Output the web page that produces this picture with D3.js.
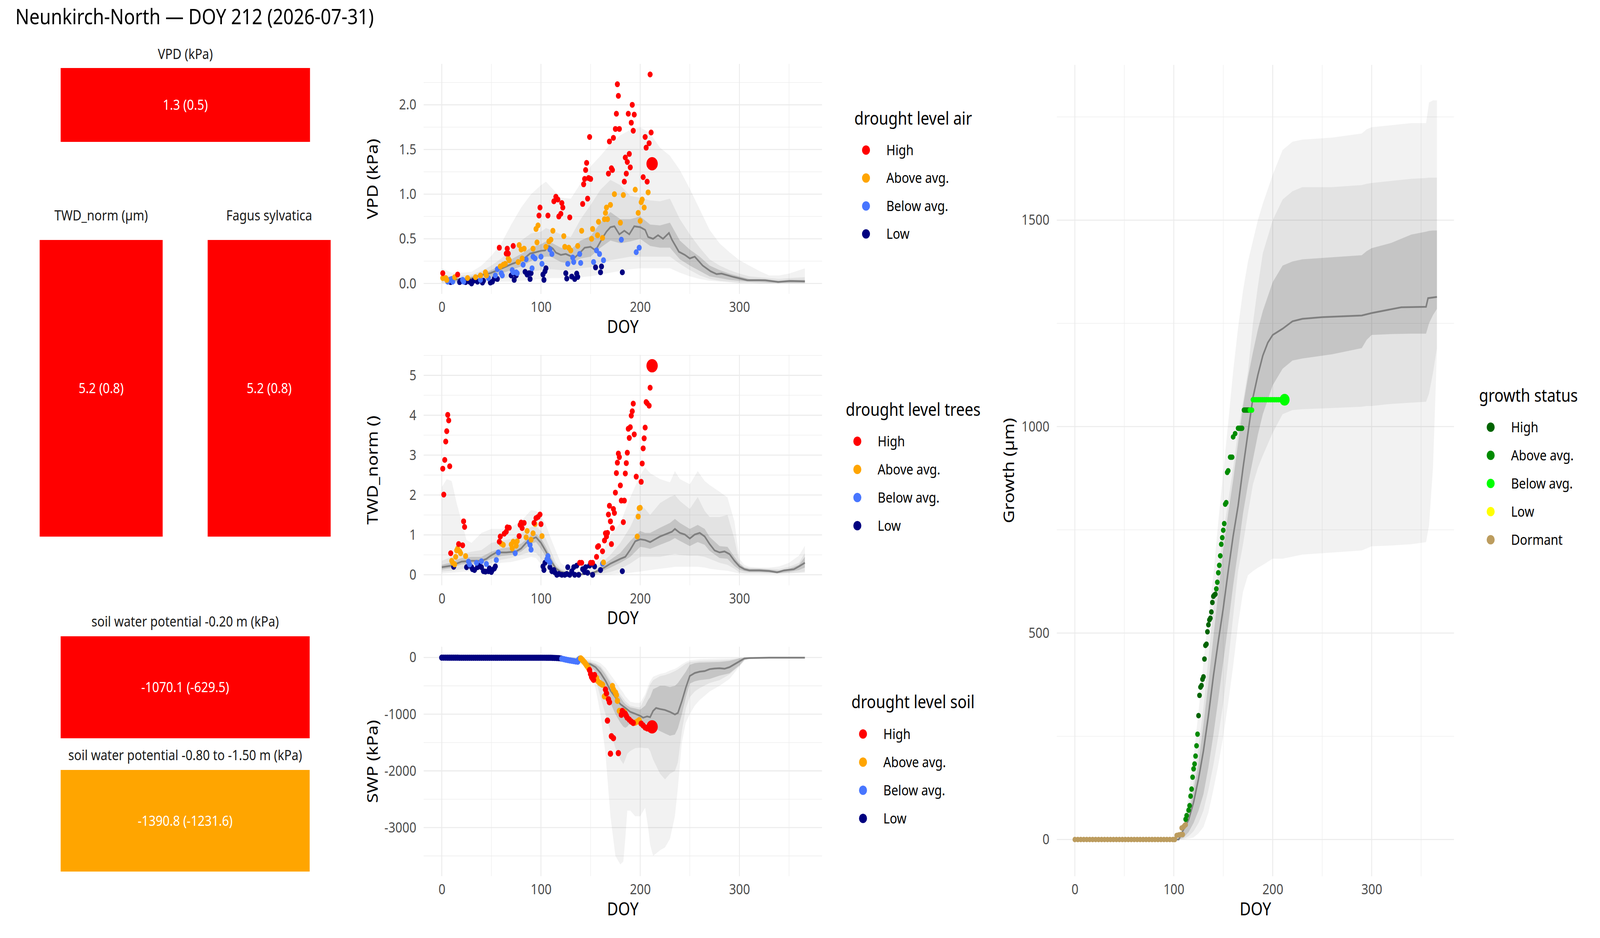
<!DOCTYPE html>
<html>
<head>
<meta charset="utf-8">
<script src="https://cdn.jsdelivr.net/npm/d3@7"></script>
<style>
  html, body { margin: 0; padding: 0; background: #fff; overflow: hidden; }
  svg { display: block; width: 100vw; height: 100vh; }
  text { font-family: "Noto Sans", sans-serif; }
</style>
</head>
<body>
<svg id="chart" viewBox="0 0 4800 2400" preserveAspectRatio="none"></svg>
<script>
// ---- data ----
const levels = ['High', 'Above avg.', 'Below avg.', 'Low'];
const levelColors = ['#FF0000', '#FFA500', '#4876FF', '#000080'];
const growthLevels = ['High', 'Above avg.', 'Below avg.', 'Low', 'Dormant'];
const growthColors = ['#006400', '#008B00', '#00FF00', '#FFFF00', '#BC9C5E'];

const tileTitles = ['VPD (kPa)', 'TWD_norm (µm)', 'Fagus sylvatica',
  'soil water potential -0.20 m (kPa)', 'soil water potential -0.80 to -1.50 m (kPa)'];
const tileValues = ['1.3 (0.5)', '5.2 (0.8)', '5.2 (0.8)', '-1070.1 (-629.5)', '-1390.8 (-1231.6)'];
const tileLevels = ['High', 'High', 'High', 'High', 'Above avg.'];

const doyMajor = [0, 100, 200, 300];
const doyMinor = [50, 150, 250, 350];

// bands: [doy, outerLo, midLo, innerLo, innerHi, midHi, outerHi]
const vpdBands = [
  [0, 0.00, 0.01, 0.03, 0.07, 0.10, 0.17], [10, 0.00, 0.01, 0.02, 0.06, 0.08, 0.12],
  [20, 0.00, 0.01, 0.02, 0.06, 0.09, 0.12], [30, 0.00, 0.01, 0.03, 0.08, 0.10, 0.13],
  [40, 0.00, 0.02, 0.05, 0.11, 0.14, 0.20], [50, 0.01, 0.03, 0.07, 0.15, 0.20, 0.31],
  [60, 0.02, 0.05, 0.11, 0.21, 0.28, 0.45], [70, 0.02, 0.07, 0.15, 0.27, 0.38, 0.66],
  [80, 0.03, 0.10, 0.19, 0.33, 0.48, 0.85], [90, 0.04, 0.13, 0.25, 0.40, 0.56, 1.00],
  [100, 0.05, 0.15, 0.29, 0.44, 0.58, 1.10], [105, 0.05, 0.16, 0.30, 0.47, 0.62, 1.14],
  [110, 0.06, 0.16, 0.30, 0.46, 0.60, 1.08], [120, 0.06, 0.15, 0.24, 0.40, 0.55, 0.96],
  [130, 0.06, 0.15, 0.22, 0.38, 0.52, 0.95], [140, 0.07, 0.17, 0.28, 0.48, 0.72, 1.12],
  [150, 0.08, 0.18, 0.30, 0.53, 0.88, 1.31], [160, 0.10, 0.22, 0.40, 0.68, 1.05, 1.43],
  [170, 0.12, 0.26, 0.48, 0.80, 1.16, 1.56], [180, 0.14, 0.28, 0.45, 0.72, 1.10, 1.66],
  [190, 0.16, 0.30, 0.47, 0.72, 0.98, 1.72], [200, 0.17, 0.30, 0.50, 0.75, 0.96, 1.75],
  [210, 0.17, 0.30, 0.42, 0.66, 0.93, 1.68], [220, 0.17, 0.30, 0.40, 0.65, 0.92, 1.52],
  [230, 0.17, 0.30, 0.40, 0.68, 0.95, 1.43], [240, 0.12, 0.22, 0.27, 0.48, 0.72, 1.27],
  [250, 0.08, 0.15, 0.20, 0.38, 0.55, 1.06], [260, 0.05, 0.09, 0.14, 0.30, 0.40, 0.83],
  [270, 0.03, 0.05, 0.08, 0.20, 0.27, 0.60], [280, 0.02, 0.03, 0.06, 0.15, 0.20, 0.45],
  [290, 0.01, 0.02, 0.04, 0.11, 0.15, 0.35], [300, 0.00, 0.01, 0.03, 0.08, 0.11, 0.26],
  [310, 0.00, 0.01, 0.02, 0.05, 0.08, 0.20], [320, 0.00, 0.00, 0.02, 0.05, 0.07, 0.14],
  [330, 0.00, 0.00, 0.01, 0.04, 0.06, 0.09], [340, 0.00, 0.00, 0.01, 0.03, 0.05, 0.09],
  [350, 0.00, 0.00, 0.01, 0.04, 0.06, 0.11], [366, 0.00, 0.00, 0.01, 0.04, 0.07, 0.17]
];
const vpdMedian = [[0, 0.05], [10, 0.045], [20, 0.045], [30, 0.055], [36, 0.08], [42, 0.10], [49, 0.115],
  [58, 0.157], [65, 0.19], [71, 0.22], [81, 0.26], [89, 0.335], [95, 0.35], [100, 0.366], [104, 0.37],
  [108, 0.42], [112, 0.39], [115, 0.345], [120, 0.32], [125, 0.33], [129, 0.31], [134, 0.29], [139, 0.34],
  [144, 0.40], [150, 0.41], [155, 0.37], [162, 0.51], [166, 0.58], [170, 0.63], [174, 0.64], [179, 0.55],
  [184, 0.59], [189, 0.55], [194, 0.64], [200, 0.63], [205, 0.60], [208, 0.52], [213, 0.50], [218, 0.54],
  [223, 0.50], [229, 0.565], [232, 0.49], [239, 0.355], [245, 0.32], [250, 0.28], [255, 0.30], [263, 0.20],
  [271, 0.136], [277, 0.105], [282, 0.11], [294, 0.073], [308, 0.036], [326, 0.036], [339, 0.017],
  [351, 0.027], [366, 0.023]];
const vpdHigh = [[1, 0.115], [16, 0.10], [58, 0.40], [65, 0.335], [66, 0.39], [67, 0.335], [72, 0.42],
  [98, 0.76], [99, 0.85], [107, 0.76], [113, 0.92], [115, 0.97], [117, 0.94], [118, 0.75], [120, 0.78],
  [121, 0.90], [122, 0.85], [129, 0.74], [142, 0.89], [143, 1.11], [144, 1.17], [145, 1.27], [146, 1.35],
  [147, 0.95], [148, 1.18], [149, 1.64], [150, 1.17], [168, 1.23], [169, 1.59], [171, 1.29], [172, 1.27],
  [173, 1.63], [175, 1.73], [176, 1.90], [177, 2.23], [178, 2.10], [179, 1.73], [184, 1.14], [185, 1.41],
  [186, 1.23], [187, 1.36], [188, 1.90], [189, 1.45], [190, 1.30], [191, 1.80], [192, 2.00], [193, 1.71],
  [194, 1.89], [203, 1.19], [205, 1.64], [206, 1.52], [207, 1.14], [209, 1.57], [210, 2.34], [211, 1.69]];
const vpdAbove = [[1, 0.06], [4, 0.06], [5, 0.04], [13, 0.07], [26, 0.06], [34, 0.07], [39, 0.09],
  [44, 0.125], [45, 0.09], [59, 0.19], [62, 0.21], [64, 0.22], [67, 0.28], [68, 0.26], [77, 0.24],
  [78, 0.43], [80, 0.38], [81, 0.28], [83, 0.39], [92, 0.39], [95, 0.61], [96, 0.46], [97, 0.65],
  [105, 0.41], [108, 0.47], [110, 0.49], [112, 0.59], [123, 0.53], [124, 0.41], [128, 0.40], [130, 0.37],
  [137, 0.42], [141, 0.59], [151, 0.50], [152, 0.61], [157, 0.54], [158, 0.69], [162, 0.51], [164, 0.72],
  [165, 0.79], [166, 0.85], [167, 0.72], [170, 0.88], [174, 1.00], [180, 0.68], [183, 0.99], [195, 1.05],
  [198, 0.79], [200, 0.70], [201, 0.91], [202, 0.94], [204, 0.85], [208, 1.02]];
const vpdBelow = [[6, 0.02], [8, 0.04], [10, 0.05], [11, 0.02], [21, 0.04], [22, 0.02], [39, 0.04],
  [47, 0.06], [54, 0.09], [56, 0.16], [60, 0.115], [61, 0.09], [71, 0.15], [72, 0.125], [75, 0.125],
  [76, 0.115], [82, 0.21], [85, 0.27], [91, 0.17], [92, 0.30], [94, 0.28], [100, 0.30], [101, 0.22],
  [109, 0.38], [111, 0.33], [127, 0.22], [132, 0.29], [133, 0.24], [139, 0.33], [140, 0.23], [153, 0.24],
  [156, 0.37], [159, 0.33], [163, 0.26], [181, 0.49], [196, 0.35], [199, 0.40]];
const vpdLow = [[9, 0.015], [18, 0.015], [19, 0.03], [24, 0.015], [28, 0.02], [30, 0.0], [32, 0.03],
  [36, 0.02], [41, 0.01], [42, 0.03], [49, 0.01], [51, 0.02], [53, 0.055], [56, 0.05], [70, 0.09],
  [73, 0.04], [75, 0.09], [84, 0.13], [86, 0.10], [88, 0.115], [89, 0.05], [90, 0.115], [102, 0.10],
  [103, 0.04], [104, 0.136], [105, 0.17], [125, 0.115], [126, 0.055], [131, 0.077], [134, 0.05],
  [136, 0.11], [137, 0.073], [155, 0.18], [160, 0.125], [161, 0.19], [182, 0.125]];
const vpdToday = [212, 1.34];

const twdBands = [
  [0, 0.03, 0.08, 0.13, 0.25, 0.35, 2.20], [5, 0.04, 0.09, 0.15, 0.28, 0.40, 2.40],
  [10, 0.05, 0.10, 0.17, 0.30, 0.45, 2.35], [15, 0.06, 0.12, 0.22, 0.38, 0.50, 1.80],
  [20, 0.07, 0.14, 0.26, 0.42, 0.52, 1.34], [25, 0.08, 0.15, 0.27, 0.44, 0.55, 0.87],
  [30, 0.09, 0.15, 0.28, 0.45, 0.58, 0.80], [40, 0.12, 0.20, 0.28, 0.45, 0.62, 1.05],
  [50, 0.22, 0.30, 0.40, 0.58, 0.80, 1.15], [60, 0.30, 0.38, 0.47, 0.66, 0.85, 1.15],
  [70, 0.32, 0.42, 0.50, 0.70, 0.90, 1.20], [80, 0.38, 0.50, 0.58, 0.78, 1.05, 1.35],
  [90, 0.45, 0.58, 0.78, 1.00, 1.20, 1.62], [95, 0.42, 0.55, 0.82, 1.02, 1.22, 1.60],
  [100, 0.26, 0.40, 0.65, 0.92, 1.10, 1.48], [105, 0.12, 0.25, 0.45, 0.70, 0.90, 1.25],
  [110, 0.02, 0.10, 0.25, 0.45, 0.60, 0.91], [115, 0.00, 0.04, 0.10, 0.22, 0.30, 0.60],
  [120, 0.00, 0.01, 0.03, 0.12, 0.15, 0.30], [130, 0.00, 0.00, 0.01, 0.04, 0.08, 0.09],
  [140, 0.00, 0.00, 0.00, 0.03, 0.07, 0.12], [150, 0.00, 0.00, 0.01, 0.06, 0.08, 0.16],
  [155, 0.00, 0.00, 0.03, 0.10, 0.15, 0.28], [160, 0.00, 0.02, 0.07, 0.20, 0.28, 0.45],
  [170, 0.01, 0.07, 0.18, 0.38, 0.50, 1.00], [180, 0.03, 0.15, 0.30, 0.55, 0.80, 1.30],
  [190, 0.05, 0.28, 0.45, 0.85, 1.20, 1.94], [200, 0.08, 0.45, 0.70, 1.10, 1.75, 2.50],
  [205, 0.10, 0.45, 0.68, 1.05, 1.65, 2.69], [210, 0.12, 0.45, 0.65, 1.05, 1.50, 2.55],
  [220, 0.15, 0.45, 0.75, 1.18, 1.80, 2.40], [230, 0.18, 0.50, 0.85, 1.30, 1.95, 2.32],
  [235, 0.20, 0.52, 0.92, 1.40, 2.00, 2.60], [240, 0.20, 0.50, 0.85, 1.30, 1.85, 2.40],
  [250, 0.20, 0.48, 0.72, 1.15, 1.65, 2.27], [258, 0.20, 0.48, 0.82, 1.25, 1.95, 2.60],
  [265, 0.18, 0.45, 0.75, 1.15, 1.60, 2.35], [270, 0.15, 0.40, 0.60, 0.95, 1.45, 2.25],
  [280, 0.12, 0.30, 0.42, 0.72, 1.45, 2.08], [288, 0.10, 0.25, 0.40, 0.70, 1.50, 1.94],
  [295, 0.06, 0.15, 0.22, 0.45, 0.90, 1.34], [300, 0.03, 0.06, 0.13, 0.28, 0.30, 0.40],
  [305, 0.02, 0.04, 0.09, 0.18, 0.20, 0.25], [310, 0.02, 0.04, 0.07, 0.15, 0.17, 0.20],
  [320, 0.02, 0.04, 0.07, 0.15, 0.16, 0.18], [330, 0.02, 0.03, 0.06, 0.13, 0.15, 0.18],
  [340, 0.02, 0.03, 0.04, 0.10, 0.14, 0.21], [350, 0.03, 0.04, 0.07, 0.15, 0.20, 0.30],
  [360, 0.04, 0.06, 0.12, 0.25, 0.30, 0.48], [366, 0.05, 0.08, 0.18, 0.45, 0.55, 0.73]
];
const twdMedian = [[0, 0.19], [10, 0.23], [20, 0.33], [30, 0.35], [40, 0.35], [45, 0.40], [50, 0.49],
  [55, 0.56], [65, 0.56], [75, 0.585], [80, 0.66], [85, 0.80], [90, 0.89], [95, 0.94], [100, 0.80],
  [105, 0.585], [110, 0.35], [115, 0.16], [120, 0.07], [130, 0.02], [140, 0.01], [150, 0.03], [160, 0.12],
  [170, 0.28], [180, 0.40], [185, 0.45], [190, 0.63], [195, 0.84], [200, 0.89], [205, 0.87], [210, 0.82],
  [215, 0.89], [220, 0.96], [225, 1.01], [232, 1.08], [235, 1.15], [240, 1.05], [245, 1.01], [250, 0.91],
  [255, 1.01], [260, 1.05], [265, 0.96], [270, 0.77], [275, 0.61], [280, 0.56], [285, 0.585], [290, 0.52],
  [295, 0.35], [300, 0.21], [305, 0.14], [310, 0.11], [320, 0.11], [330, 0.094], [338, 0.06], [345, 0.11],
  [355, 0.14], [360, 0.21], [366, 0.30]];
const twdHigh = [[1, 2.66], [2, 2.01], [3, 2.88], [4, 3.34], [5, 3.60], [6, 4.01], [7, 3.87], [8, 2.72],
  [9, 0.54], [17, 0.77], [21, 0.74], [22, 1.34], [23, 1.20], [58, 0.83], [59, 0.96], [63, 1.03], [65, 1.08],
  [66, 1.19], [68, 1.18], [78, 0.97], [79, 1.25], [80, 1.31], [81, 1.17], [83, 1.30], [93, 1.30], [95, 1.42],
  [97, 1.45], [99, 1.51], [100, 1.27], [139, 0.30], [141, 0.30], [150, 0.30], [152, 0.30], [156, 0.45],
  [157, 0.70], [158, 0.72], [162, 0.59], [164, 0.86], [165, 1.04], [166, 0.96], [167, 1.05], [168, 1.51],
  [169, 1.73], [170, 1.34], [171, 0.77], [172, 1.17], [173, 1.65], [174, 1.55], [175, 2.06], [176, 2.55],
  [177, 2.81], [178, 3.04], [179, 2.95], [180, 2.24], [181, 1.86], [183, 1.32], [184, 1.86], [185, 2.54],
  [186, 2.80], [187, 3.06], [188, 3.66], [189, 3.43], [190, 3.70], [191, 3.99], [192, 4.10], [193, 4.29],
  [194, 3.52], [196, 2.46], [201, 2.33], [202, 2.79], [203, 3.17], [204, 3.42], [205, 3.69], [206, 4.33],
  [207, 4.30], [209, 4.24], [210, 4.69]];
const twdAbove = [[10, 0.35], [11, 0.30], [13, 0.26], [14, 0.45], [15, 0.61], [16, 0.66], [18, 0.59],
  [19, 0.54], [24, 0.47], [60, 0.78], [62, 0.75], [70, 0.76], [71, 0.66], [72, 0.83], [75, 0.73], [76, 0.84],
  [85, 0.94], [86, 1.10], [90, 0.88], [92, 1.04], [94, 1.27], [101, 0.97], [163, 0.31], [197, 0.96],
  [198, 1.46], [199, 1.67], [200, 1.68]];
const twdBelow = [[27, 0.33], [28, 0.26], [35, 0.30], [40, 0.34], [45, 0.27], [55, 0.37], [57, 0.56],
  [74, 0.54], [88, 0.82], [89, 0.75], [90, 0.63], [106, 0.39], [107, 0.47], [108, 0.35], [109, 0.31],
  [162, 0.28]];
const twdLow = [[12, 0.20], [25, 0.19], [30, 0.19], [31, 0.14], [33, 0.12], [36, 0.19], [38, 0.23],
  [40, 0.19], [42, 0.09], [44, 0.08], [47, 0.09], [48, 0.16], [50, 0.07], [51, 0.12], [53, 0.16], [54, 0.21],
  [102, 0.21], [103, 0.12], [104, 0.30], [109, 0.19], [111, 0.09], [113, 0.12], [114, 0.06], [116, 0.0],
  [118, 0.02], [121, 0.0], [124, 0.0], [126, 0.02], [127, 0.19], [129, 0.0], [131, 0.09], [133, 0.19],
  [134, 0.0], [136, 0.23], [138, 0.0], [142, 0.14], [144, 0.07], [145, 0.19], [147, 0.05], [149, 0.23],
  [152, 0.0], [154, 0.21], [160, 0.12], [182, 0.09]];
const twdToday = [212, 5.24];

const swpBands = [
  [0, -15, -10, -5, 0, 0, 0], [120, -15, -10, -5, 0, 0, 0], [130, -30, -20, -12, -3, 0, 0],
  [140, -120, -90, -70, -30, -15, 0], [145, -150, -120, -110, -60, -40, -20],
  [150, -250, -200, -160, -90, -70, -40], [155, -550, -380, -250, -120, -100, -60],
  [160, -1000, -700, -380, -180, -150, -100], [165, -1700, -1000, -580, -300, -260, -180],
  [170, -2800, -1300, -800, -450, -400, -300], [175, -3500, -1600, -1000, -580, -520, -420],
  [180, -3650, -1800, -1150, -700, -650, -550], [183, -3600, -1880, -1220, -780, -720, -620],
  [185, -3200, -1800, -1240, -820, -770, -680], [187, -2700, -1700, -1220, -850, -800, -720],
  [190, -2700, -1650, -1150, -880, -850, -780], [195, -2800, -1600, -1130, -900, -870, -800],
  [200, -2800, -1590, -1130, -920, -880, -800], [205, -2650, -1600, -1160, -850, -700, -650],
  [208, -3000, -1600, -1180, -750, -560, -500], [210, -3300, -1650, -1200, -700, -480, -420],
  [213, -3500, -1800, -1230, -560, -400, -340], [220, -3400, -2050, -1300, -500, -330, -290],
  [225, -3350, -2150, -1340, -500, -310, -270], [230, -3200, -2050, -1380, -520, -280, -230],
  [235, -2800, -2000, -1360, -500, -240, -200], [238, -2300, -1850, -1250, -450, -210, -170],
  [242, -1500, -1300, -1000, -350, -160, -120], [246, -1150, -900, -700, -250, -110, -80],
  [250, -1000, -700, -460, -130, -80, -50], [255, -850, -600, -420, -100, -70, -40],
  [260, -750, -540, -400, -90, -60, -30], [270, -600, -450, -380, -85, -55, -25],
  [280, -500, -400, -320, -80, -50, -20], [290, -380, -300, -280, -60, -40, -15],
  [300, -160, -150, -140, -15, -10, -5], [305, -60, -50, -40, -5, -3, 0],
  [310, -20, -15, -12, -3, -2, 0], [320, -8, -6, -5, 0, 0, 0], [366, -8, -6, -5, 0, 0, 0]
];
const swpMedian = [[0, 0], [120, 0], [130, -17], [140, -51], [145, -103], [150, -120], [155, -171],
  [160, -274], [165, -411], [170, -583], [175, -703], [180, -823], [185, -891], [190, -960], [195, -994],
  [200, -1029], [203, -1063], [207, -1039], [210, -1053], [213, -943], [216, -891], [220, -909],
  [225, -926], [230, -960], [235, -1005], [238, -977], [242, -771], [246, -531], [250, -326], [255, -274],
  [260, -250], [265, -240], [270, -206], [275, -195], [280, -189], [285, -199], [290, -171], [295, -120],
  [300, -69], [305, -17], [310, -10], [330, -3], [366, -3]];
const swpLow = [[0, -3], [2, -3], [4, -3], [6, -4], [8, -4], [10, -4], [12, -4], [14, -4], [16, -4],
  [18, -5], [20, -5], [22, -5], [24, -5], [26, -5], [28, -5], [30, -5], [32, -5], [34, -5], [36, -5],
  [38, -5], [40, -5], [42, -5], [44, -5], [46, -5], [48, -5], [50, -5], [52, -5], [54, -5], [56, -5],
  [58, -5], [60, -5], [62, -5], [64, -5], [66, -5], [68, -5], [70, -5], [72, -5], [74, -5], [76, -5],
  [78, -5], [80, -5], [82, -5], [84, -5], [86, -5], [88, -5], [90, -5], [92, -5], [94, -5], [96, -5],
  [98, -5], [100, -5], [102, -5], [104, -5], [106, -6], [108, -6], [110, -6], [112, -7], [114, -8],
  [116, -10], [118, -13], [120, -17]];
const swpBelow = [[121, -22], [123, -30], [125, -38], [127, -45], [129, -52], [131, -58], [133, -64],
  [135, -70], [137, -75], [138, -40], [139, -22]];
const swpAbove = [[140, -15], [141, -30], [142, -50], [143, -70], [144, -90], [145, -115], [146, -140],
  [147, -165], [148, -190], [156, -360], [157, -411], [159, -446], [160, -460], [161, -470], [162, -480],
  [164, -686], [172, -504], [173, -566], [175, -617], [176, -662], [177, -765], [179, -943], [184, -960],
  [195, -1149], [197, -1131], [199, -1107]];
const swpHigh = [[149, -223], [150, -291], [151, -343], [152, -370], [153, -394], [154, -309], [165, -566],
  [166, -634], [167, -1114], [168, -737], [169, -789], [170, -1697], [171, -1389], [173, -1423],
  [178, -1687], [181, -1011], [182, -943], [183, -970], [185, -994], [186, -1029], [187, -1063],
  [189, -1097], [191, -1131], [193, -1155], [201, -1166], [203, -1200], [205, -1234], [207, -1251],
  [209, -1217], [210, -1269]];
const swpToday = [212, -1224];

const growthBands = [
  [0, 0, 0, 0, 0, 0, 0], [100, 0, 0, 0, 0, 0, 0], [105, 0, 0, 0, 3, 6, 12],
  [110, 0, 2, 5, 20, 30, 40], [115, 2, 8, 18, 60, 75, 110], [120, 5, 20, 40, 120, 140, 200],
  [125, 15, 40, 70, 185, 225, 310], [130, 30, 70, 110, 280, 320, 430],
  [135, 65, 120, 175, 380, 440, 540], [140, 120, 180, 253, 490, 560, 640],
  [145, 180, 250, 340, 600, 650, 770], [150, 250, 330, 430, 700, 740, 890],
  [155, 330, 430, 520, 790, 820, 1010], [160, 420, 540, 615, 870, 900, 1134],
  [165, 520, 650, 700, 960, 990, 1240], [170, 600, 715, 790, 1050, 1060, 1330],
  [175, 640, 790, 860, 1120, 1134, 1400], [180, 650, 860, 920, 1180, 1250, 1450],
  [185, 658, 900, 980, 1235, 1340, 1500], [190, 665, 930, 1030, 1280, 1420, 1540],
  [200, 680, 985, 1100, 1350, 1500, 1610], [210, 680, 1030, 1140, 1390, 1550, 1670],
  [220, 685, 1040, 1160, 1400, 1570, 1690], [230, 690, 1042, 1165, 1405, 1580, 1695],
  [260, 695, 1045, 1175, 1410, 1580, 1700], [290, 700, 1048, 1190, 1415, 1585, 1710],
  [295, 705, 1050, 1210, 1425, 1588, 1720], [300, 710, 1050, 1222, 1432, 1590, 1725],
  [320, 712, 1055, 1224, 1445, 1595, 1730], [340, 715, 1058, 1225, 1465, 1600, 1735],
  [355, 720, 1060, 1225, 1472, 1602, 1735], [358, 760, 1080, 1250, 1474, 1603, 1785],
  [362, 900, 1130, 1270, 1475, 1603, 1790], [366, 1180, 1190, 1285, 1475, 1603, 1790]
];
const growthMedian = [[0, 0], [105, 0], [110, 25], [115, 48], [120, 90], [125, 147], [130, 215],
  [135, 300], [140, 395], [145, 480], [150, 560], [155, 650], [160, 735], [165, 808], [170, 900],
  [175, 985], [180, 1070], [185, 1125], [190, 1172], [195, 1203], [200, 1222], [210, 1237], [220, 1255],
  [230, 1261], [250, 1265], [290, 1269], [300, 1275], [330, 1289], [355, 1290], [357, 1311], [366, 1314]];
const growthDormant = [[0, 0], [3, 0], [6, 0], [9, 0], [12, 0], [15, 0], [18, 0], [21, 0], [24, 0], [27, 0],
  [30, 0], [33, 0], [36, 0], [39, 0], [42, 0], [45, 0], [48, 0], [51, 0], [54, 0], [57, 0], [60, 0], [63, 0],
  [66, 0], [69, 0], [72, 0], [75, 0], [78, 0], [81, 0], [84, 0], [87, 0], [90, 0], [93, 0], [96, 0], [99, 0],
  [101, 0], [103, 10], [105, 11], [107, 12], [109, 12], [108, 28], [110, 31], [111, 34], [112, 36]];
const growthHigh = [[125, 300], [126, 349], [127, 369], [128, 373], [129, 388], [130, 394], [131, 437],
  [132, 470], [133, 473], [134, 503], [135, 520], [136, 532], [137, 536], [138, 551], [139, 574],
  [140, 589], [141, 592], [142, 594]];
const growthAbove = [[112, 49], [113, 58], [115, 71], [116, 82], [117, 105], [118, 122], [119, 151],
  [120, 171], [121, 183], [122, 202], [123, 227], [124, 255], [143, 607], [144, 623], [145, 646],
  [146, 664], [147, 687], [148, 715], [149, 731], [150, 749], [151, 765], [152, 812], [153, 816],
  [154, 889], [155, 893], [157, 926], [158, 926], [159, 926], [160, 975], [162, 983], [165, 996],
  [166, 996], [167, 996], [168, 996], [169, 996], [171, 1040], [172, 1040], [173, 1040], [174, 1040],
  [175, 1040], [176, 1040]];
const growthBelow = [[177, 1040], [178, 1040], [179, 1040], [180, 1065], [182, 1065], [184, 1065],
  [186, 1065], [188, 1065], [190, 1065], [192, 1065], [194, 1065], [196, 1065], [198, 1065], [200, 1065],
  [202, 1065], [204, 1065], [206, 1065], [208, 1065], [210, 1065], [211, 1065]];
const growthToday = [212, 1065];

// ---- drawing ----
const svg = d3.select('#chart');
const bandFills = [['#000', 0.05, 1, 6], ['#000', 0.06, 2, 5], ['#000', 0.13, 3, 4]];

function drawPanel (p) {
  const x = d3.scaleLinear().domain([-18.25, 383.25]).range([p.left, p.right]);
  const y = d3.scaleLinear().domain(p.yDomain).range([p.bottom, p.top]);
  const g = svg.append('g');

  // grid
  const grid = g.append('g').attr('stroke', '#ebebeb');
  grid.selectAll('.vmin').data(doyMinor).join('line')
    .attr('x1', d => x(d)).attr('x2', d => x(d)).attr('y1', p.top).attr('y2', p.bottom)
    .attr('stroke-width', 1.3);
  grid.selectAll('.hmin').data(p.yMinor).join('line')
    .attr('x1', p.left).attr('x2', p.right).attr('y1', d => y(d)).attr('y2', d => y(d))
    .attr('stroke-width', 1.3);
  grid.selectAll('.vmaj').data(doyMajor).join('line')
    .attr('x1', d => x(d)).attr('x2', d => x(d)).attr('y1', p.top).attr('y2', p.bottom)
    .attr('stroke-width', 2.6);
  grid.selectAll('.hmaj').data(p.yMajor).join('line')
    .attr('x1', p.left).attr('x2', p.right).attr('y1', d => y(d)).attr('y2', d => y(d))
    .attr('stroke-width', 2.6);

  // ribbons
  bandFills.forEach(([col, op, lo, hi]) => {
    const area = d3.area().x(d => x(d[0])).y0(d => y(d[lo])).y1(d => y(d[hi]));
    g.append('path').datum(p.bands).attr('d', area).attr('fill', col).attr('fill-opacity', op);
  });

  // median
  const line = d3.line().x(d => x(d[0])).y(d => y(d[1]));
  g.append('path').datum(p.median).attr('d', line)
    .attr('fill', 'none').attr('stroke', '#7f7f7f').attr('stroke-width', 4.5);

  // points
  p.points.forEach(([pts, col]) => {
    g.append('g').selectAll('circle').data(pts).join('circle')
      .attr('cx', d => x(d[0])).attr('cy', d => y(d[1])).attr('r', p.r).attr('fill', col);
  });
  g.append('circle').attr('cx', x(p.today[0])).attr('cy', y(p.today[1]))
    .attr('r', p.rToday).attr('fill', p.todayColor);

  // axes
  const ax = g.append('g').attr('transform', `translate(${p.left},0)`)
    .call(d3.axisLeft(y).tickValues(p.yMajor).tickFormat(p.fmt).tickSize(0).tickPadding(22));
  const bx = g.append('g').attr('transform', `translate(0,${p.bottom})`)
    .call(d3.axisBottom(x).tickValues(doyMajor).tickFormat(d => String(d)).tickSize(0).tickPadding(20));
  [ax, bx].forEach(a => {
    a.select('.domain').remove();
    a.selectAll('text').attr('font-size', 36.7).attr('fill', '#4d4d4d')
      .attr('font-family', '"Noto Sans", sans-serif');
  });

  g.append('text').attr('x', (p.left + p.right) / 2).attr('y', p.bottom + 100)
    .attr('text-anchor', 'middle').attr('font-size', 45.8).attr('fill', '#000').text('DOY');
  g.append('text')
    .attr('transform', `translate(${p.yTitleX},${(p.top + p.bottom) / 2}) rotate(-90)`)
    .attr('text-anchor', 'middle').attr('dy', '0.35em')
    .attr('font-size', 45.8).attr('fill', '#000').text(p.yTitle);
}

function drawLegend (lg) {
  const g = svg.append('g');
  g.append('text').attr('x', lg.x).attr('y', lg.titleY)
    .attr('font-size', 45.8).attr('fill', '#000').text(lg.title);
  const rows = g.selectAll('.row').data(lg.labels).join('g')
    .attr('transform', (d, i) => `translate(${lg.x},${lg.rowY + i * lg.step})`);
  rows.append('circle').attr('cx', 35).attr('r', 12).attr('fill', (d, i) => lg.colors[i]);
  rows.append('text').attr('x', 96).attr('dy', '0.35em')
    .attr('font-size', 36.7).attr('fill', '#000').text(d => d);
}

const mid = { left: 1271, right: 2466, yTitleX: 1117, r: 7.5, rToday: 17 };
const fmt1 = d3.format('.1f');
const lvlPoints = (low, below, above, high) =>
  [[low, levelColors[3]], [below, levelColors[2]], [above, levelColors[1]], [high, levelColors[0]]];

drawPanel(Object.assign({}, mid, {
  top: 163.5, bottom: 752, yDomain: [-0.117, 2.458],
  yMajor: [0, 0.5, 1, 1.5, 2], yMinor: [0.25, 0.75, 1.25, 1.75, 2.25], fmt: fmt1,
  yTitle: 'VPD (kPa)', bands: vpdBands, median: vpdMedian,
  points: lvlPoints(vpdLow, vpdBelow, vpdAbove, vpdHigh), today: vpdToday, todayColor: levelColors[0]
}));
drawPanel(Object.assign({}, mid, {
  top: 908, bottom: 1497.5, yDomain: [-0.263, 5.513],
  yMajor: [0, 1, 2, 3, 4, 5], yMinor: [0.5, 1.5, 2.5, 3.5, 4.5, 5.5], fmt: d => String(d),
  yTitle: 'TWD_norm ()', bands: twdBands, median: twdMedian,
  points: lvlPoints(twdLow, twdBelow, twdAbove, twdHigh), today: twdToday, todayColor: levelColors[0]
}));
drawPanel(Object.assign({}, mid, {
  top: 1654.8, bottom: 2241.8, yDomain: [-3857, 189], r: 8,
  yMajor: [-3000, -2000, -1000, 0], yMinor: [-3500, -2500, -1500, -500], fmt: d => String(d),
  yTitle: 'SWP (kPa)', bands: swpBands, median: swpMedian,
  points: lvlPoints(swpLow, swpBelow, swpAbove, swpHigh), today: swpToday, todayColor: levelColors[0]
}));
drawPanel({
  left: 3170.4, right: 4362, top: 166, bottom: 2242, yTitleX: 3026, r: 7, rToday: 15,
  yDomain: [-89, 1876], yMajor: [0, 500, 1000, 1500], yMinor: [250, 750, 1250, 1750],
  fmt: d => String(d), yTitle: 'Growth (µm)', bands: growthBands, median: growthMedian,
  points: [[growthDormant, growthColors[4]], [growthAbove, growthColors[1]],
    [growthHigh, growthColors[0]], [growthBelow, growthColors[2]]],
  today: growthToday, todayColor: growthColors[2]
});

drawLegend({ title: 'drought level air', x: 2563, titleY: 319, rowY: 384, step: 71.5, labels: levels, colors: levelColors });
drawLegend({ title: 'drought level trees', x: 2537, titleY: 1064, rowY: 1129, step: 72, labels: levels, colors: levelColors });
drawLegend({ title: 'drought level soil', x: 2554, titleY: 1812, rowY: 1878, step: 72, labels: levels, colors: levelColors });
drawLegend({ title: 'growth status', x: 4437, titleY: 1028, rowY: 1093, step: 72, labels: growthLevels, colors: growthColors });

// summary tiles (left column)
const tileBoxes = [
  { x: 182, y: 174, w: 748, h: 189, ty: 138 },
  { x: 119, y: 614, w: 369, h: 759, ty: 551 },
  { x: 623, y: 614, w: 369, h: 759, ty: 551 },
  { x: 182, y: 1628, w: 747, h: 261, ty: 1590 },
  { x: 182, y: 1970, w: 747, h: 260, ty: 1932 }
];
const tiles = svg.append('g').selectAll('g').data(tileBoxes).join('g');
tiles.append('rect').attr('x', d => d.x).attr('y', d => d.y).attr('width', d => d.w).attr('height', d => d.h)
  .attr('fill', (d, i) => levelColors[levels.indexOf(tileLevels[i])]);
tiles.append('text').attr('x', d => d.x + d.w / 2).attr('y', d => d.ty).attr('dy', '0.35em')
  .attr('text-anchor', 'middle').attr('font-size', 36.7).attr('fill', '#1a1a1a')
  .text((d, i) => tileTitles[i]);
tiles.append('text').attr('x', d => d.x + d.w / 2).attr('y', d => d.y + d.h / 2).attr('dy', '0.35em')
  .attr('text-anchor', 'middle').attr('font-size', 36.7).attr('fill', '#fff')
  .text((d, i) => tileValues[i]);

svg.append('text').attr('x', 46).attr('y', 62).attr('font-size', 55).attr('fill', '#000')
  .text('Neunkirch-North — DOY 212 (2026-07-31)');
</script>
</body>
</html>
